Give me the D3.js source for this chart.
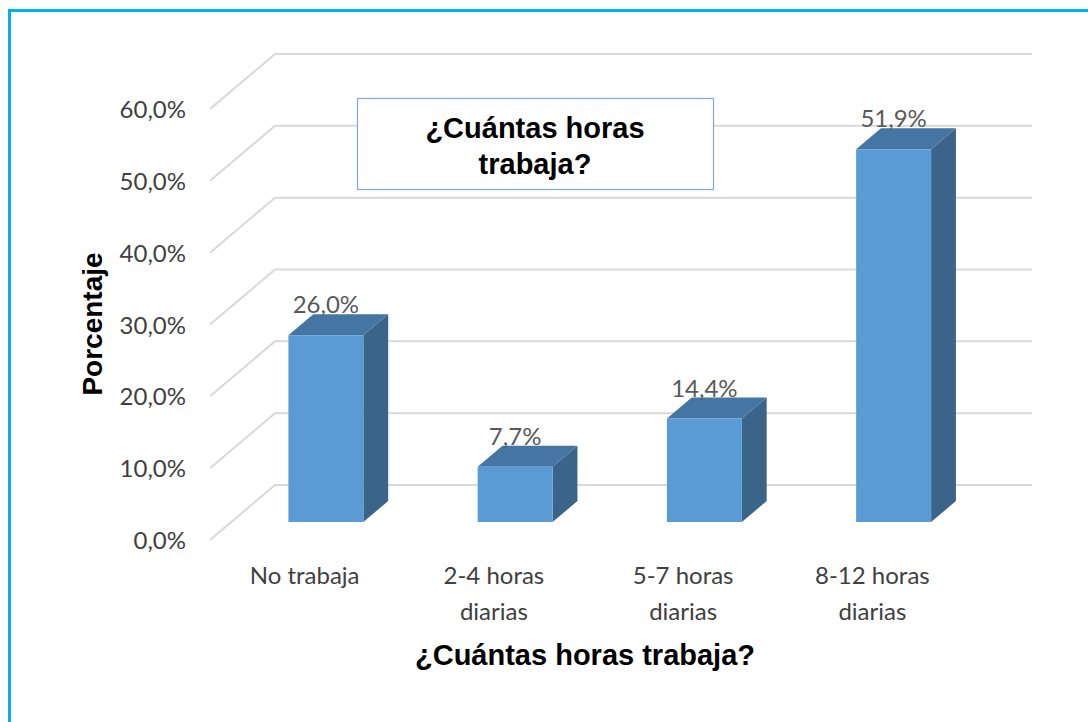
<!DOCTYPE html>
<html>
<head>
<meta charset="utf-8">
<script src="https://cdn.jsdelivr.net/npm/d3@7"></script>
<style>
  html, body { margin: 0; padding: 0; background: #fff; }
  svg { display: block; }
</style>
</head>
<body>
<svg id="chart"></svg>
<script>
// data
const categories = ['No trabaja', '2-4 horas diarias', '5-7 horas diarias', '8-12 horas diarias'];
const values = [26.0, 7.7, 14.4, 51.9];
const yTicks = [0, 10, 20, 30, 40, 50, 60];
const chartTitle = ['¿Cuántas horas', 'trabaja?'];
const xTitle = '¿Cuántas horas trabaja?';
const yTitle = 'Porcentaje';

const width = 1088;
const height = 722;

const svg = d3.select('#chart')
  .attr('width', width)
  .attr('height', height);

// border (only top and left visible)
svg.append('path')
  .attr('d', 'M9.5,' + height + ' V10.5 H' + width)
  .attr('fill', 'none')
  .attr('stroke', '#00B0F0')
  .attr('stroke-width', 3);

// front plane scales, depth goes back by (depthX, depthY)
const depthX = 65;
const depthY = -55;
const x = d3.scaleBand()
  .domain(categories)
  .range([210, 967])
  .paddingInner(0.604)
  .paddingOuter(0.302);
const y = d3.scaleLinear()
  .domain([0, 60])
  .range([540, 109]);

const fmt = v => v.toFixed(1).replace('.', ',') + '%';
const pt = (px, py, z) => [px + z * depthX, py + z * depthY];

// gridlines: side wall diagonal + back wall horizontal
const grid = svg.append('g');
grid.selectAll('path')
  .data(yTicks)
  .enter()
  .append('path')
  .attr('d', d => {
    const a = pt(210, y(d), 0);
    const b = pt(210, y(d), 1);
    const c = pt(967, y(d), 1);
    return 'M' + a + 'L' + b + 'L' + c;
  })
  .attr('fill', 'none')
  .attr('stroke', '#D9D9D9')
  .attr('stroke-width', 2);

// y tick labels
svg.append('g').selectAll('text')
  .data(yTicks)
  .enter()
  .append('text')
  .attr('x', 186)
  .attr('y', d => y(d) + 9)
  .attr('text-anchor', 'end')
  .style('font-family', 'Lato, "Open Sans", sans-serif')
  .style('font-size', '24px')
  .style('fill', '#404040')
  .text(fmt);

// 3D bars
const z0 = 0.327;
const z1 = 0.709;
const bars = svg.append('g').selectAll('g')
  .data(categories.map((c, i) => ({ cat: c, val: values[i] })))
  .enter()
  .append('g');

const poly = pts => 'M' + pts.join('L') + 'Z';

// side face
bars.append('path')
  .attr('d', d => {
    const xr = x(d.cat) + x.bandwidth();
    return poly([pt(xr, y(0), z0), pt(xr, y(0), z1), pt(xr, y(d.val), z1), pt(xr, y(d.val), z0)]);
  })
  .style('fill', '#3A6489');

// top face
bars.append('path')
  .attr('d', d => {
    const xl = x(d.cat), xr = xl + x.bandwidth(), yt = y(d.val);
    return poly([pt(xl, yt, z0), pt(xr, yt, z0), pt(xr, yt, z1), pt(xl, yt, z1)]);
  })
  .style('fill', '#4575A3');

// front face
bars.append('path')
  .attr('d', d => {
    const xl = x(d.cat), xr = xl + x.bandwidth();
    return poly([pt(xl, y(0), z0), pt(xr, y(0), z0), pt(xr, y(d.val), z0), pt(xl, y(d.val), z0)]);
  })
  .style('fill', '#5B9BD5');

// data labels
bars.append('text')
  .attr('x', d => pt(x(d.cat) + x.bandwidth() / 2, 0, z0)[0])
  .attr('y', d => pt(0, y(d.val), z1)[1] - 1)
  .attr('text-anchor', 'middle')
  .style('font-family', 'Lato, "Open Sans", sans-serif')
  .style('font-size', '24px')
  .style('fill', '#595959')
  .text(d => fmt(d.val));

// category labels (wrapped before "diarias")
const catLabels = svg.append('g').selectAll('text')
  .data(categories)
  .enter()
  .append('text')
  .attr('text-anchor', 'middle')
  .style('font-family', 'Lato, "Open Sans", sans-serif')
  .style('font-size', '24px')
  .style('fill', '#404040');

catLabels.each(function (d) {
  const cx = x(d) + x.bandwidth() / 2;
  const words = d.split(' ');
  const lines = words.length > 2 ? [words.slice(0, -1).join(' '), words[words.length - 1]] : [d];
  d3.select(this).selectAll('tspan')
    .data(lines)
    .enter()
    .append('tspan')
    .attr('x', cx)
    .attr('y', (l, i) => 584 + i * 36)
    .text(l => l);
});

// axis titles
svg.append('text')
  .attr('transform', 'translate(102,324) rotate(-90)')
  .attr('text-anchor', 'middle')
  .style('font-family', '"Liberation Sans", Arial, sans-serif')
  .style('font-weight', 'bold')
  .style('font-size', '28px')
  .style('fill', '#000')
  .text(yTitle);

svg.append('text')
  .attr('x', 585)
  .attr('y', 665)
  .attr('text-anchor', 'middle')
  .style('font-family', '"Liberation Sans", Arial, sans-serif')
  .style('font-weight', 'bold')
  .style('font-size', '29px')
  .style('fill', '#000')
  .text(xTitle);

// title box
const tbox = svg.append('g');
tbox.append('rect')
  .attr('x', 357.5)
  .attr('y', 98.5)
  .attr('width', 356)
  .attr('height', 91)
  .attr('fill', '#fff')
  .attr('stroke', '#7FA9D6')
  .attr('stroke-width', 1.2);
tbox.append('text')
  .attr('text-anchor', 'middle')
  .style('font-family', '"Liberation Sans", Arial, sans-serif')
  .style('font-weight', 'bold')
  .style('font-size', '29px')
  .style('fill', '#000')
  .selectAll('tspan')
  .data(chartTitle)
  .enter()
  .append('tspan')
  .attr('x', 535)
  .attr('y', (d, i) => 138 + i * 36)
  .text(d => d);
</script>
</body>
</html>
